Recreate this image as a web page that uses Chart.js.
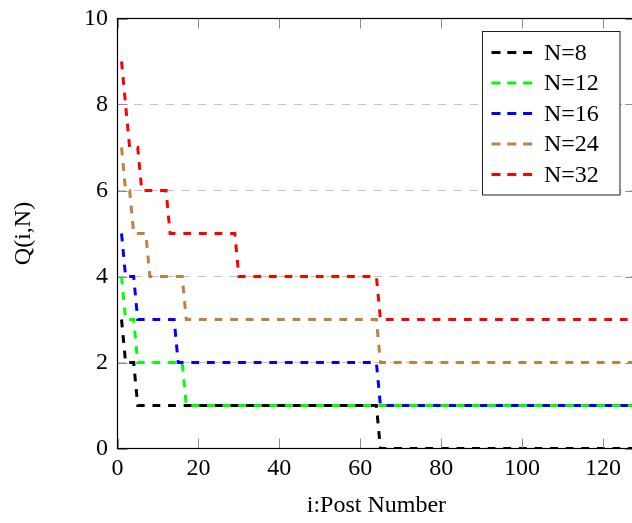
<!DOCTYPE html>
<html>
<head>
<meta charset="utf-8">
<script src="https://cdn.jsdelivr.net/npm/chart.js@4.4.1/dist/chart.umd.min.js"></script>
<style>
  html, body { margin: 0; padding: 0; background: #fff; overflow: hidden; }
  #wrap { width: 632px; height: 523px; overflow: hidden; }
  canvas { display: block; }
</style>
</head>
<body>
<div id="wrap"><canvas id="chart" width="640" height="523"></canvas></div>
<script>
// series: post number i -> Q(i,N), breakpoints
const seriesLabels = ['N=8', 'N=12', 'N=16', 'N=24', 'N=32'];
const seriesColors = ['#000000', '#00ff00', '#0000ff', '#bf8040', '#ff0000'];

const postN8  = [1, 2, 4, 5, 64, 65, 128];
const qN8     = [3, 2, 2, 1, 1, 0, 0];
const postN12 = [1, 2, 4, 5, 16, 17, 128];
const qN12    = [4, 3, 3, 2, 2, 1, 1];
const postN16 = [1, 2, 4, 5, 14, 15, 64, 65, 128];
const qN16    = [5, 4, 4, 3, 3, 2, 2, 1, 1];
const postN24 = [1, 2, 3, 4, 7, 8, 16, 17, 64, 65, 128];
const qN24    = [7, 6, 6, 5, 5, 4, 4, 3, 3, 2, 2];
const postN32 = [1, 2, 3, 5, 6, 12, 13, 29, 30, 64, 65, 128];
const qN32    = [9, 8, 7, 7, 6, 6, 5, 5, 4, 4, 3, 3];

const xTicks = [0, 20, 40, 60, 80, 100, 120];
const yTicks = [0, 2, 4, 6, 8, 10];

const allPosts = [postN8, postN12, postN16, postN24, postN32];
const allQ = [qN8, qN12, qN16, qN24, qN32];

const FONT = "'Liberation Serif', 'Times New Roman', serif";

function toPoints(xs, ys) {
    return xs.map((x, k) => ({ x: x, y: ys[k] }));
}

const datasets = seriesLabels.map((label, s) => ({
    label: label,
    data: toPoints(allPosts[s], allQ[s]),
    borderColor: seriesColors[s],
    borderWidth: 3,
    borderDash: [7.8, 7.8],
    borderCapStyle: 'butt',
    pointRadius: 0,
    fill: false,
    tension: 0
}));

// inner tick marks, frame and the boxed legend
const framePlugin = {
    id: 'frame',
    afterDraw(chart) {
        const ctx = chart.ctx;
        const a = chart.chartArea;
        const xs = chart.scales.x;
        const ys = chart.scales.y;
        const len = 10;

        ctx.save();
        ctx.strokeStyle = '#8c8c8c';
        ctx.lineWidth = 1;
        ctx.beginPath();
        xTicks.forEach(v => {
            const px = Math.round(xs.getPixelForValue(v)) + 0.5;
            ctx.moveTo(px, a.bottom); ctx.lineTo(px, a.bottom - len);
            ctx.moveTo(px, a.top); ctx.lineTo(px, a.top + len);
        });
        yTicks.forEach(v => {
            const py = Math.round(ys.getPixelForValue(v)) + 0.5;
            ctx.moveTo(a.left, py); ctx.lineTo(a.left + len, py);
            ctx.moveTo(a.right, py); ctx.lineTo(a.right - len, py);
        });
        ctx.stroke();

        ctx.strokeStyle = '#000';
        ctx.lineWidth = 1.2;
        ctx.strokeRect(a.left, a.top, a.right - a.left, a.bottom - a.top);

        // legend box
        const bx = 482.5, by = 31.5, bw = 137.5, bh = 163.5;
        ctx.fillStyle = '#fff';
        ctx.fillRect(bx, by, bw, bh);
        ctx.strokeStyle = '#222';
        ctx.lineWidth = 1;
        ctx.strokeRect(bx, by, bw, bh);

        ctx.font = '24px ' + FONT;
        ctx.textBaseline = 'middle';
        ctx.textAlign = 'left';
        seriesLabels.forEach((label, s) => {
            const cy = 52.5 + s * 30.5;
            ctx.strokeStyle = seriesColors[s];
            ctx.lineWidth = 3;
            ctx.setLineDash([9, 6.8]);
            ctx.beginPath();
            ctx.moveTo(491.5, cy);
            ctx.lineTo(532.5, cy);
            ctx.stroke();
            ctx.setLineDash([]);
            ctx.fillStyle = '#000';
            ctx.fillText(label, 544, cy + 1);
        });
        ctx.restore();
    }
};

new Chart(document.getElementById('chart').getContext('2d'), {
    type: 'line',
    data: { datasets: datasets },
    options: {
        responsive: false,
        maintainAspectRatio: false,
        animation: false,
        devicePixelRatio: 1,
        layout: { padding: { left: 0, top: 18.5, right: 4.7, bottom: 0 } },
        plugins: {
            legend: { display: false },
            tooltip: { enabled: false }
        },
        scales: {
            x: {
                type: 'linear',
                min: 0,
                max: 128,
                afterBuildTicks: scale => { scale.ticks = xTicks.map(v => ({ value: v })); },
                afterFit: scale => {
                    scale.height = 74.5;
                    scale.paddingLeft = 0;
                    scale.paddingRight = 0;
                },
                grid: { display: false, drawTicks: false },
                border: { display: false },
                ticks: {
                    color: '#000',
                    font: { family: FONT, size: 24 },
                    padding: 6,
                    maxRotation: 0,
                    autoSkip: false
                },
                title: {
                    display: true,
                    text: 'i:Post Number',
                    color: '#000',
                    font: { family: FONT, size: 24 },
                    padding: { top: 0, bottom: 2.6 }
                }
            },
            y: {
                type: 'linear',
                min: 0,
                max: 10,
                afterBuildTicks: scale => { scale.ticks = yTicks.map(v => ({ value: v })); },
                afterFit: scale => {
                    scale.width = 117.5;
                    scale.paddingTop = 0;
                    scale.paddingBottom = 0;
                },
                grid: {
                    drawTicks: false,
                    lineWidth: 1,
                    color: c => (c.tick && (c.tick.value === 0 || c.tick.value === 10)) ? 'rgba(0,0,0,0)' : '#c4c4c4'
                },
                border: { display: false, dash: [8, 8] },
                ticks: {
                    color: '#000',
                    font: { family: FONT, size: 24 },
                    padding: 9.5
                },
                title: {
                    display: true,
                    text: 'Q(i,N)',
                    color: '#000',
                    font: { family: FONT, size: 24 },
                    padding: { top: 9.6, bottom: 0 }
                }
            }
        }
    },
    plugins: [framePlugin]
});
</script>
</body>
</html>
